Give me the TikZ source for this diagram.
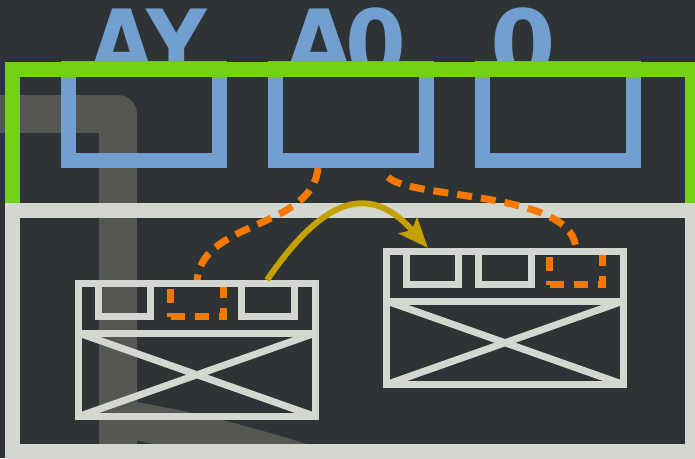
\documentclass[tikz,border=0pt]{standalone}
\usepackage{fontspec}
\newfontfamily\letfont{DejaVu Sans}
\usetikzlibrary{arrows.meta}
\definecolor{bgc}{HTML}{2E3436}
\definecolor{bandc}{HTML}{555753}
\definecolor{bluec}{HTML}{729FCF}
\definecolor{greenc}{HTML}{73D216}
\definecolor{grayc}{HTML}{D3D7CF}
\definecolor{orangec}{HTML}{F57900}
\definecolor{goldc}{HTML}{C4A000}
\tikzset{
 bluebox/.style={draw=bluec, line width=15pt, rectangle, inner sep=0pt, outer sep=0pt, minimum width=151pt, minimum height=92pt},
 letter/.style={text=bluec, inner sep=0pt, anchor=base, font=\letfont\bfseries\fontsize{94}{94}\selectfont},
 band/.style={draw=bandc, line width=38pt, line join=round},
 frame/.style={line width=15pt},
 srv/.style={draw=grayc, line width=7pt, rectangle, inner sep=0pt, outer sep=0pt},
 slotbox/.style={srv, minimum width=52pt, minimum height=33pt},
 slotdash/.style={slotbox, draw=orangec, dash pattern=on 14pt off 10pt},
 link/.style={draw=orangec, line width=7pt, dash pattern=on 15pt off 9pt},
 move/.style={draw=goldc, line width=6pt, -{Stealth[length=30pt,width=24pt,inset=6pt]}},
}
\begin{document}
\begin{tikzpicture}[x=1pt,y=-1pt]
\useasboundingbox (0,0) rectangle (695,458);
\fill[bgc] (0,0) rectangle (695,458);
% letters, their lower part hidden under the green frame
\begin{scope}
\clip (0,0) rectangle (695,69.5);
\node[letter] (t1) at (148.5,77) {\scalebox{0.89}[1]{AY}};
\node[letter] (t2) at (346,77) {\scalebox{0.93}[1]{A\kern-8pt 0}};
\node[letter] (t3) at (523,77) {0};
\end{scope}
% faint band
\draw[band] (-25,114) -- (118,114) -- (118,480);
\draw[band] (118,418) .. controls (200,432) and (260,448) .. (340,475);
% blue boxes
\node[bluebox] (b1) at (144,114.5) {};
\node[bluebox] (b2) at (351,114.5) {};
\node[bluebox] (b3) at (558,114.5) {};
% frames
\draw[frame, draw=greenc] (12.5,69.5) rectangle (692.5,210.5);
\draw[frame, draw=grayc] (12.5,210.5) rectangle (692.5,451.5);
% server boxes
\begin{scope}[shift={(75,280)}]
\node[slotbox] (a1) at (49.5,20) {};
\node[slotdash, minimum width=53pt] (a2) at (122,20) {};
\node[slotbox, minimum width=53pt] (a3) at (193,20) {};
\node[srv, minimum width=237pt, minimum height=133pt] (sa) at (122,70) {};
\draw[srv] (3.5,53) -- (240.5,53);
\draw[srv] (3.5,53) -- (240.5,136.5);
\draw[srv] (3.5,136.5) -- (240.5,53);
\end{scope}
\begin{scope}[shift={(383,248)}]
\node[slotbox] (c1) at (49.5,20) {};
\node[slotbox, minimum width=53pt] (c2) at (122,20) {};
\node[slotdash, minimum width=53pt] (c3) at (193,20) {};
\node[srv, minimum width=237pt, minimum height=133pt] (sb) at (122,70) {};
\draw[srv] (3.5,53) -- (240.5,53);
\draw[srv] (3.5,53) -- (240.5,136.5);
\draw[srv] (3.5,136.5) -- (240.5,53);
\end{scope}
% orange dashed links (ends hidden under the box tops)
\coordinate (l1s) at (318,168);
\coordinate (l2s) at (388,177);
\draw[link] (l1s) .. controls (312,230) and (198,220) .. (a2.north);
\draw[link] (l2s) .. controls (410,200) and (578,190) .. (c3.north);
% redraw top bars of server boxes over link ends
\draw[srv] (sa.north west) -- (sa.north east);
\draw[srv] (sb.north west) -- (sb.north east);
% gold arrow
\coordinate (ga) at (267,280);
\coordinate (gb) at (428,248);
\draw[move] (ga) .. controls (318,206) and (365,177) .. (gb);
\end{tikzpicture}
\end{document}
